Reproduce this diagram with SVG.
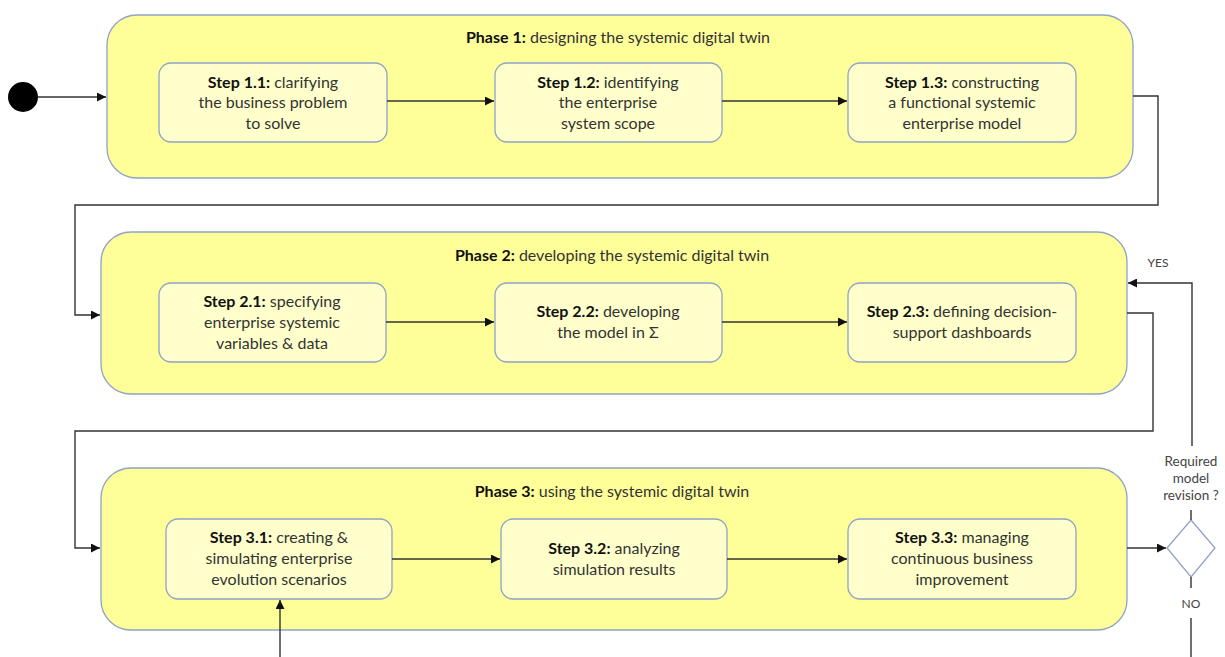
<svg xmlns="http://www.w3.org/2000/svg" width="1225" height="657" viewBox="0 0 1225 657">
<defs>
<marker id="arr" viewBox="0 0 10 10" refX="10" refY="5" markerWidth="9" markerHeight="9" markerUnits="userSpaceOnUse" orient="auto"><path d="M0,0 L10,5 L0,10 z" fill="#111"/></marker>
<style>
.phase{fill:#FFFF99;stroke:#8FA3C6;stroke-width:1.3}
.step{fill:#FFFFCC;stroke:#8FA3C6;stroke-width:1.3}
.t{font-family:Lato,"Liberation Sans",sans-serif;font-size:16px;fill:#333;text-anchor:middle}
.b{font-weight:bold;fill:#111}
.s{font-family:Lato,"Liberation Sans",sans-serif;font-size:13.5px;fill:#444;text-anchor:middle}
.y{font-family:Lato,"Liberation Sans",sans-serif;font-size:12px;fill:#444;text-anchor:middle}
.c{fill:none;stroke:#333;stroke-width:1.4}
</style>
</defs>
<rect width="1225" height="657" fill="#fff"/>
<g id="start"><circle cx="23" cy="97" r="15" fill="#000"/></g>
<g id="phase1">
<rect class="phase" x="107" y="15" width="1026" height="163" rx="30"/>
<text class="t" x="618" y="43"><tspan class="b">Phase 1:</tspan> designing the systemic digital twin</text>
</g>
<g id="step11"><rect class="step" x="159" y="63" width="228" height="79" rx="12"/>
<text class="t" x="273" y="88"><tspan class="b">Step 1.1:</tspan> clarifying</text><text class="t" x="273" y="108">the business problem</text><text class="t" x="273" y="129">to solve</text></g>
<g id="step12"><rect class="step" x="495" y="63" width="227" height="79" rx="12"/>
<text class="t" x="608" y="88"><tspan class="b">Step 1.2:</tspan> identifying</text><text class="t" x="608" y="108">the enterprise</text><text class="t" x="608" y="129">system scope</text></g>
<g id="step13"><rect class="step" x="848" y="63" width="228" height="79" rx="12"/>
<text class="t" x="962" y="88"><tspan class="b">Step 1.3:</tspan> constructing</text><text class="t" x="962" y="108">a functional systemic</text><text class="t" x="962" y="129">enterprise model</text></g>
<g id="phase2">
<rect class="phase" x="101" y="232" width="1026" height="162" rx="30"/>
<text class="t" x="612" y="261"><tspan class="b">Phase 2:</tspan> developing the systemic digital twin</text>
</g>
<g id="step21"><rect class="step" x="159" y="283" width="227" height="79" rx="12"/>
<text class="t" x="272" y="307"><tspan class="b">Step 2.1:</tspan> specifying</text><text class="t" x="272" y="328">enterprise systemic</text><text class="t" x="272" y="349">variables &amp; data</text></g>
<g id="step22"><rect class="step" x="495" y="283" width="227" height="79" rx="12"/>
<text class="t" x="608" y="317"><tspan class="b">Step 2.2:</tspan> developing</text><text class="t" x="608" y="338">the model in Σ</text></g>
<g id="step23"><rect class="step" x="848" y="283" width="228" height="79" rx="12"/>
<text class="t" x="962" y="317"><tspan class="b">Step 2.3:</tspan> defining decision-</text><text class="t" x="962" y="338">support dashboards</text></g>
<g id="phase3">
<rect class="phase" x="101" y="468" width="1026" height="162" rx="30"/>
<text class="t" x="612" y="497"><tspan class="b">Phase 3:</tspan> using the systemic digital twin</text>
</g>
<g id="step31"><rect class="step" x="166" y="519" width="226" height="80" rx="12"/>
<text class="t" x="279" y="543"><tspan class="b">Step 3.1:</tspan> creating &amp;</text><text class="t" x="279" y="564">simulating enterprise</text><text class="t" x="279" y="585">evolution scenarios</text></g>
<g id="step32"><rect class="step" x="501" y="519" width="226" height="80" rx="12"/>
<text class="t" x="614" y="554"><tspan class="b">Step 3.2:</tspan> analyzing</text><text class="t" x="614" y="575">simulation results</text></g>
<g id="step33"><rect class="step" x="848" y="519" width="228" height="80" rx="12"/>
<text class="t" x="962" y="543"><tspan class="b">Step 3.3:</tspan> managing</text><text class="t" x="962" y="564">continuous business</text><text class="t" x="962" y="585">improvement</text></g>
<g id="decision">
<polygon points="1191,520 1215,548 1191,577 1167,548" fill="#fff" stroke="#8FA3C6" stroke-width="1.3"/>
<text class="s" x="1191" y="466">Required</text><text class="s" x="1191" y="483">model</text><text class="s" x="1191" y="500">revision ?</text>
<text class="y" x="1158" y="267">YES</text>
<text class="y" x="1191" y="608">NO</text>
</g>
<g id="connectors">
<line class="c" x1="38" y1="97" x2="106" y2="97" marker-end="url(#arr)"/>
<line class="c" x1="387" y1="101" x2="494" y2="101" marker-end="url(#arr)"/>
<line class="c" x1="722" y1="101" x2="847" y2="101" marker-end="url(#arr)"/>
<polyline class="c" points="1133,96 1158,96 1158,205 75,205 75,315 100,315" marker-end="url(#arr)"/>
<line class="c" x1="386" y1="322" x2="494" y2="322" marker-end="url(#arr)"/>
<line class="c" x1="722" y1="322" x2="847" y2="322" marker-end="url(#arr)"/>
<polyline class="c" points="1127,313 1153,313 1153,431 75,431 75,548 100,548" marker-end="url(#arr)"/>
<line class="c" x1="392" y1="559" x2="500" y2="559" marker-end="url(#arr)"/>
<line class="c" x1="727" y1="559" x2="847" y2="559" marker-end="url(#arr)"/>
<line class="c" x1="1127" y1="548" x2="1166" y2="548" marker-end="url(#arr)"/>
<polyline class="c" points="1192,446 1192,283 1128,283" marker-end="url(#arr)"/>
<line class="c" x1="1191" y1="510" x2="1191" y2="520"/>
<line class="c" x1="1191" y1="577" x2="1191" y2="588"/>
<line class="c" x1="1191" y1="618" x2="1191" y2="657"/>
<line class="c" x1="280" y1="657" x2="280" y2="600" marker-end="url(#arr)"/>
</g>
</svg>
